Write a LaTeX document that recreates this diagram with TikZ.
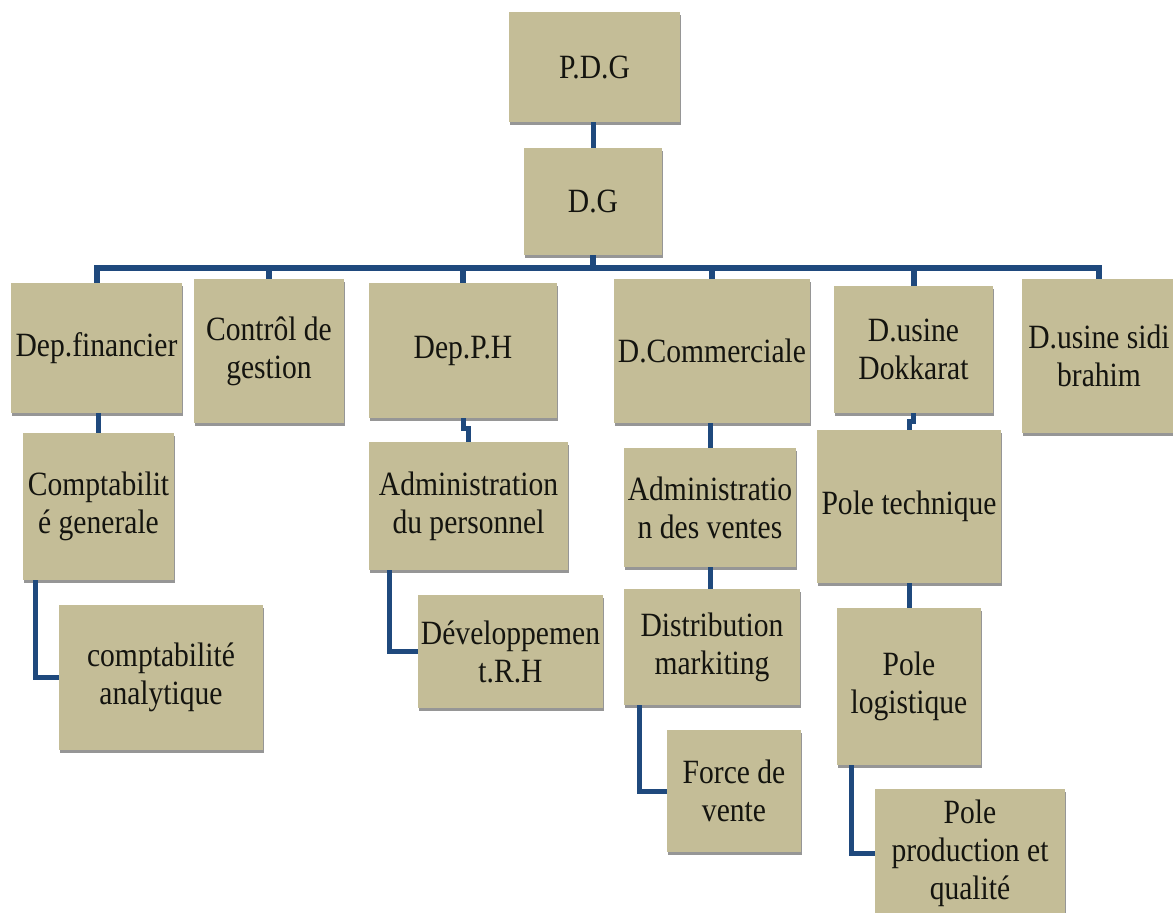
\documentclass[tikz,border=0pt]{standalone}
\usepackage{fontspec}
\setmainfont{Liberation Serif}[FakeStretch=0.87]
\usepackage{xcolor}
\usetikzlibrary{positioning, shadows}
\definecolor{boxtan}{RGB}{196,189,151}
\definecolor{linkblue}{RGB}{31,73,125}
\definecolor{textdark}{RGB}{20,20,15}
\tikzset{
  box/.style={
    fill=boxtan,
    align=center,
    inner sep=0pt,
    text=textdark,
    font=\fontsize{17}{19}\selectfont,
    drop shadow={shadow xshift=0.6pt, shadow yshift=-1.4pt, opacity=0.55, fill=black!75}
  },
  link/.style={draw=linkblue, line width=2.5pt, line join=miter},
  bus/.style={link, line width=3pt}
}

\begin{document}
\begin{tikzpicture}[x=0.5pt, y=-0.5pt]
  \useasboundingbox (0,0) rectangle (1173,912);
  \clip (0,0) rectangle (1173,912);

  \node[box, minimum width=85.5pt, minimum height=55pt] (pdg) at (594.5,67) {P.D.G};
  \node[box, minimum width=69pt, minimum height=53.5pt] (dg) at (593,201.5) {D.G};

  \node[box, minimum width=85.5pt, minimum height=65pt] (depfin) at (96.5,348) {Dep.financier};
  \node[box, minimum width=75pt, minimum height=72pt] (controle) at (269,351) {Contrôl de\\gestion};
  \node[box, minimum width=94pt, minimum height=67.5pt] (depph) at (463,350.5) {Dep.P.H};
  \node[box, minimum width=98pt, minimum height=72pt] (dcomm) at (712,351) {D.Commerciale};
  \node[box, minimum width=79.5pt, minimum height=63.5pt] (dokk) at (913.5,349.5) {D.usine\\Dokkarat};
  \node[box, minimum width=77pt, minimum height=77pt] (sidi) at (1099,356) {D.usine sidi\\brahim};

  \node[box, minimum width=75.5pt, minimum height=73.5pt] (comptag) at (98.5,506.5) {Comptabilit\\é generale};
  \node[box, minimum width=102pt, minimum height=72.5pt] (comptan) at (161,677.5) {comptabilité\\analytique};

  \node[box, minimum width=99.5pt, minimum height=64pt] (adminp) at (468.5,506) {Administration\\du personnel};
  \node[box, minimum width=92.5pt, minimum height=56.5pt] (devrh) at (510.5,651.5) {Développemen\\t.R.H};

  \node[box, minimum width=86pt, minimum height=59.5pt] (adminv) at (710,507.5) {Administratio\\n des ventes};
  \node[box, minimum width=88pt, minimum height=58pt] (distm) at (712,647) {Distribution\\markiting};
  \node[box, minimum width=67pt, minimum height=61pt] (force) at (734,791) {Force de\\vente};

  \node[box, minimum width=92pt, minimum height=76.5pt] (poletech) at (909,506.5) {Pole technique};
  \node[box, minimum width=72pt, minimum height=78.5pt] (polelog) at (909,686.5) {Pole\\logistique};
  \node[box, minimum width=95pt, minimum height=64pt] (poleprod) at (970,853) {Pole\\production et\\qualité};

  \draw[link] (pdg.south -| dg.south) -- (dg.north);
  \foreach \dept in {depfin, controle, depph, dcomm, dokk, sidi}
    \draw[bus] (dg.south) -- ++(0,12.5) -| (\dept.north);

  \draw[link] (depfin.south -| comptag.north) -- (comptag.north);
  \draw[link] ([xshift=6.5pt]comptag.south west) |- (comptan.west);
  \draw[link] (depph.south) -- ++(0,10) -| (adminp.north);
  \draw[link] ([xshift=10.5pt]adminp.south west) |- (devrh.west);
  \draw[link] (dcomm.south -| adminv.north) -- (adminv.north);
  \draw[link] (adminv.south) -- (distm.north -| adminv.south);
  \draw[link] ([xshift=8pt]distm.south west) |- (force.west);
  \draw[link] (dokk.south) -- ++(0,8) -| (poletech.north);
  \draw[link] (poletech.south) -- (polelog.north);
  \draw[link] ([xshift=7.5pt]polelog.south west) |- (poleprod.west);
\end{tikzpicture}
\end{document}
